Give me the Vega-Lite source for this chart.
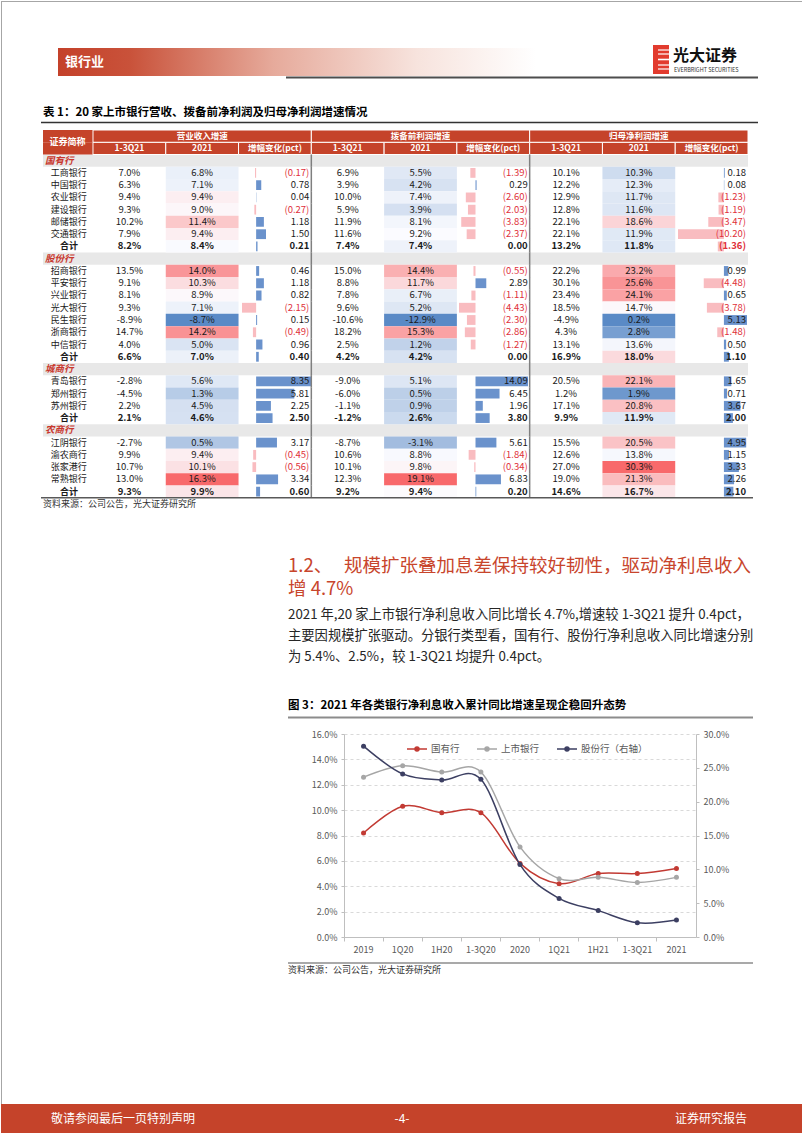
{
"$schema": "https://vega.github.io/schema/vega-lite/v6.json",
"padding": 0,
"background": "white",
"bounds": "flush",
"spacing": 0,
"config": {"view": {"stroke": null}, "font": "Noto Sans CJK SC", "concat": {"spacing": 0},
  "locale": {"number": {"decimal": ".", "thousands": ",", "grouping": [3], "currency": ["", ""], "minus": "-"}}},
"datasets": {
 "tbl": [
  {"r":0,"type":"sec","name":"国有行"},
  {"r":1,"type":"bank","name":"工商银行","rq":0.070,"ry":0.068,"rd":-0.17,"pq":0.069,"py":0.055,"pd":-1.39,"nq":0.101,"ny":0.103,"nd":0.18},
  {"r":2,"type":"bank","name":"中国银行","rq":0.063,"ry":0.071,"rd":0.78,"pq":0.039,"py":0.042,"pd":0.29,"nq":0.122,"ny":0.123,"nd":0.08},
  {"r":3,"type":"bank","name":"农业银行","rq":0.094,"ry":0.094,"rd":0.04,"pq":0.100,"py":0.074,"pd":-2.60,"nq":0.129,"ny":0.117,"nd":-1.23},
  {"r":4,"type":"bank","name":"建设银行","rq":0.093,"ry":0.090,"rd":-0.27,"pq":0.059,"py":0.039,"pd":-2.03,"nq":0.128,"ny":0.116,"nd":-1.19},
  {"r":5,"type":"bank","name":"邮储银行","rq":0.102,"ry":0.114,"rd":1.18,"pq":0.119,"py":0.081,"pd":-3.83,"nq":0.221,"ny":0.186,"nd":-3.47},
  {"r":6,"type":"bank","name":"交通银行","rq":0.079,"ry":0.094,"rd":1.50,"pq":0.116,"py":0.092,"pd":-2.37,"nq":0.221,"ny":0.119,"nd":-10.20},
  {"r":7,"type":"total","name":"合计","rq":0.082,"ry":0.084,"rd":0.21,"pq":0.074,"py":0.074,"pd":0.00,"nq":0.132,"ny":0.118,"nd":-1.36},
  {"r":8,"type":"sec","name":"股份行"},
  {"r":9,"type":"bank","name":"招商银行","rq":0.135,"ry":0.140,"rd":0.46,"pq":0.150,"py":0.144,"pd":-0.55,"nq":0.222,"ny":0.232,"nd":0.99},
  {"r":10,"type":"bank","name":"平安银行","rq":0.091,"ry":0.103,"rd":1.18,"pq":0.088,"py":0.117,"pd":2.89,"nq":0.301,"ny":0.256,"nd":-4.48},
  {"r":11,"type":"bank","name":"兴业银行","rq":0.081,"ry":0.089,"rd":0.82,"pq":0.078,"py":0.067,"pd":-1.11,"nq":0.234,"ny":0.241,"nd":0.65},
  {"r":12,"type":"bank","name":"光大银行","rq":0.093,"ry":0.071,"rd":-2.15,"pq":0.096,"py":0.052,"pd":-4.43,"nq":0.185,"ny":0.147,"nd":-3.78},
  {"r":13,"type":"bank","name":"民生银行","rq":-0.089,"ry":-0.087,"rd":0.15,"pq":-0.106,"py":-0.129,"pd":-2.30,"nq":-0.049,"ny":0.002,"nd":5.13},
  {"r":14,"type":"bank","name":"浙商银行","rq":0.147,"ry":0.142,"rd":-0.49,"pq":0.182,"py":0.153,"pd":-2.86,"nq":0.043,"ny":0.028,"nd":-1.48},
  {"r":15,"type":"bank","name":"中信银行","rq":0.040,"ry":0.050,"rd":0.96,"pq":0.025,"py":0.012,"pd":-1.27,"nq":0.131,"ny":0.136,"nd":0.50},
  {"r":16,"type":"total","name":"合计","rq":0.066,"ry":0.070,"rd":0.40,"pq":0.042,"py":0.042,"pd":0.00,"nq":0.169,"ny":0.180,"nd":1.10},
  {"r":17,"type":"sec","name":"城商行"},
  {"r":18,"type":"bank","name":"青岛银行","rq":-0.028,"ry":0.056,"rd":8.35,"pq":-0.090,"py":0.051,"pd":14.09,"nq":0.205,"ny":0.221,"nd":1.65},
  {"r":19,"type":"bank","name":"郑州银行","rq":-0.045,"ry":0.013,"rd":5.81,"pq":-0.060,"py":0.005,"pd":6.45,"nq":0.012,"ny":0.019,"nd":0.71},
  {"r":20,"type":"bank","name":"苏州银行","rq":0.022,"ry":0.045,"rd":2.25,"pq":-0.011,"py":0.009,"pd":1.96,"nq":0.171,"ny":0.208,"nd":3.67},
  {"r":21,"type":"total","name":"合计","rq":0.021,"ry":0.046,"rd":2.50,"pq":-0.012,"py":0.026,"pd":3.80,"nq":0.099,"ny":0.119,"nd":2.00},
  {"r":22,"type":"sec","name":"农商行"},
  {"r":23,"type":"bank","name":"江阴银行","rq":-0.027,"ry":0.005,"rd":3.17,"pq":-0.087,"py":-0.031,"pd":5.61,"nq":0.155,"ny":0.205,"nd":4.95},
  {"r":24,"type":"bank","name":"渝农商行","rq":0.099,"ry":0.094,"rd":-0.45,"pq":0.106,"py":0.088,"pd":-1.84,"nq":0.126,"ny":0.138,"nd":1.15},
  {"r":25,"type":"bank","name":"张家港行","rq":0.107,"ry":0.101,"rd":-0.56,"pq":0.101,"py":0.098,"pd":-0.34,"nq":0.270,"ny":0.303,"nd":3.33},
  {"r":26,"type":"bank","name":"常熟银行","rq":0.130,"ry":0.163,"rd":3.34,"pq":0.123,"py":0.191,"pd":6.83,"nq":0.190,"ny":0.213,"nd":2.26},
  {"r":27,"type":"total","name":"合计","rq":0.093,"ry":0.099,"rd":0.60,"pq":0.092,"py":0.094,"pd":0.20,"nq":0.146,"ny":0.167,"nd":2.10}
 ],
 "hdr": [
  {"k":"rq","t":"1-3Q21","g":"rev","gt":"营业收入增速","mid":false},
  {"k":"ry","t":"2021","g":"rev","gt":"营业收入增速","mid":true},
  {"k":"rd","t":"增幅变化(pct)","g":"rev","gt":"营业收入增速","mid":false},
  {"k":"pq","t":"1-3Q21","g":"pre","gt":"拨备前利润增速","mid":false},
  {"k":"py","t":"2021","g":"pre","gt":"拨备前利润增速","mid":true},
  {"k":"pd","t":"增幅变化(pct)","g":"pre","gt":"拨备前利润增速","mid":false},
  {"k":"nq","t":"1-3Q21","g":"net","gt":"归母净利润增速","mid":false},
  {"k":"ny","t":"2021","g":"net","gt":"归母净利润增速","mid":true},
  {"k":"nd","t":"增幅变化(pct)","g":"net","gt":"归母净利润增速","mid":false}
 ],
 "ts": [
  {"p":"2019","s":"国有行","v":0.082},{"p":"1Q20","s":"国有行","v":0.103},{"p":"1H20","s":"国有行","v":0.098},{"p":"1-3Q20","s":"国有行","v":0.098},{"p":"2020","s":"国有行","v":0.058},{"p":"1Q21","s":"国有行","v":0.042},{"p":"1H21","s":"国有行","v":0.050},{"p":"1-3Q21","s":"国有行","v":0.050},{"p":"2021","s":"国有行","v":0.054},
  {"p":"2019","s":"上市银行","v":0.126},{"p":"1Q20","s":"上市银行","v":0.135},{"p":"1H20","s":"上市银行","v":0.130},{"p":"1-3Q20","s":"上市银行","v":0.130},{"p":"2020","s":"上市银行","v":0.071},{"p":"1Q21","s":"上市银行","v":0.046},{"p":"1H21","s":"上市银行","v":0.047},{"p":"1-3Q21","s":"上市银行","v":0.043},{"p":"2021","s":"上市银行","v":0.047},
  {"p":"2019","s":"股份行（右轴）","v":0.282},{"p":"1Q20","s":"股份行（右轴）","v":0.241},{"p":"1H20","s":"股份行（右轴）","v":0.232},{"p":"1-3Q20","s":"股份行（右轴）","v":0.233},{"p":"2020","s":"股份行（右轴）","v":0.107},{"p":"1Q21","s":"股份行（右轴）","v":0.057},{"p":"1H21","s":"股份行（右轴）","v":0.039},{"p":"1-3Q21","s":"股份行（右轴）","v":0.021},{"p":"2021","s":"股份行（右轴）","v":0.025}
 ]
},
"vconcat": [
 {
  "width": 802, "height": 129,
  "data": {"values": [{}]},
  "layer": [
   {"mark": {"type": "rule", "stroke": "#A6A6A6", "strokeWidth": 1}, "encoding": {"x": {"value": 0}, "x2": {"value": 802}, "y": {"value": 0.5}}},
   {"mark": {"type": "rule", "stroke": "#A6A6A6", "strokeWidth": 1}, "encoding": {"x": {"value": 0.5}, "y": {"value": 0}, "y2": {"value": "height"}}},
   {"mark": {"type": "rule", "stroke": "#A6A6A6", "strokeWidth": 1}, "encoding": {"x": {"value": 801.5}, "y": {"value": 0}, "y2": {"value": "height"}}},
   {"mark": {"type": "rect", "fill": {"gradient": "linear", "x1": 0, "y1": 0, "x2": 1, "y2": 0, "stops": [{"offset": 0, "color": "#C4412A"}, {"offset": 0.15, "color": "#C9523A"}, {"offset": 0.45, "color": "#E6AA9B"}, {"offset": 0.75, "color": "#F7E3DD"}, {"offset": 1, "color": "#FFFFFF"}]}}, "encoding": {"x": {"value": 57}, "x2": {"value": 535}, "y": {"value": 47}, "y2": {"value": 75}}},
   {"mark": {"type": "text", "text": "银行业", "align": "left", "baseline": "middle", "fontSize": 13, "fontWeight": "bold", "fill": "white"}, "encoding": {"x": {"value": 64}, "y": {"value": 61}}},
   {"mark": {"type": "rule", "stroke": "#4D4D4D", "strokeWidth": 2}, "encoding": {"x": {"value": 285}, "x2": {"value": 757}, "y": {"value": 76.5}}},
   {"mark": {"type": "rect", "fill": "#E23B2E"}, "encoding": {"x": {"value": 652}, "x2": {"value": 668}, "y": {"value": 44}, "y2": {"value": 73}}},
   {"mark": {"type": "rule", "stroke": "white", "strokeWidth": 1.2}, "encoding": {"x": {"value": 657}, "x2": {"value": 668}, "y": {"value": 49}}},
   {"mark": {"type": "rule", "stroke": "white", "strokeWidth": 1.2}, "encoding": {"x": {"value": 657}, "x2": {"value": 668}, "y": {"value": 53}}},
   {"mark": {"type": "rule", "stroke": "white", "strokeWidth": 1.6}, "encoding": {"x": {"value": 657}, "x2": {"value": 668}, "y": {"value": 58.5}}},
   {"mark": {"type": "rule", "stroke": "white", "strokeWidth": 1.2}, "encoding": {"x": {"value": 657}, "x2": {"value": 668}, "y": {"value": 64}}},
   {"mark": {"type": "rule", "stroke": "white", "strokeWidth": 1.2}, "encoding": {"x": {"value": 657}, "x2": {"value": 668}, "y": {"value": 68}}},
   {"mark": {"type": "text", "text": "光大证券", "align": "left", "baseline": "middle", "fontSize": 16, "fontWeight": "bold", "fill": "#111111"}, "encoding": {"x": {"value": 672}, "y": {"value": 55}}},
   {"mark": {"type": "text", "text": "EVERBRIGHT SECURITIES", "align": "left", "baseline": "middle", "fontSize": 5.5, "fill": "#333333"}, "encoding": {"x": {"value": 673}, "y": {"value": 68.5}}},
   {"mark": {"type": "text", "text": "表 1：20 家上市银行营收、拨备前净利润及归母净利润增速情况", "align": "left", "baseline": "middle", "fontSize": 11.5, "fontWeight": "bold", "fill": "#000000"}, "encoding": {"x": {"value": 42}, "y": {"value": 112}}},
   {"mark": {"type": "rule", "stroke": "#333333", "strokeWidth": 1.5}, "encoding": {"x": {"value": 40}, "x2": {"value": 757}, "y": {"value": 121.5}}}
  ]
 },
 {
  "width": 802, "height": 380,
  "data": {"name": "tbl"},
  "resolve": {"scale": {"x": "independent", "color": "independent"}},
  "layer": [
   {"transform": [{"filter": "datum.type == 'sec'"}], "mark": {"type": "rect", "fill": "#E8E8E8"},
    "encoding": {"x": {"value": 42}, "x2": {"value": 747},
     "y": {"field": "r", "type": "ordinal", "scale": {"type": "band", "domain": [-2,-1,0,1,2,3,4,5,6,7,8,9,10,11,12,13,14,15,16,17,18,19,20,21,22,23,24,25,26,27,28], "range": [0, 380], "paddingInner": 0, "paddingOuter": 0}, "axis": null}}},
   {"data": {"values": [{}]}, "mark": {"type": "rule", "stroke": "#A6A6A6", "strokeWidth": 1}, "encoding": {"x": {"value": 0.5}, "y": {"value": 0}, "y2": {"value": "height"}}},
   {"data": {"values": [{}]}, "mark": {"type": "rule", "stroke": "#A6A6A6", "strokeWidth": 1}, "encoding": {"x": {"value": 801.5}, "y": {"value": 0}, "y2": {"value": "height"}}},
   {"transform": [{"filter": "datum.type != 'sec'"}], "mark": {"type": "rect"},
    "encoding": {"x": {"datum": "ry", "type": "nominal", "scale": {"type": "band", "domain": ["name","rq","ry","rd","pq","py","pd","nq","ny","nd"], "range": [19.2, 747], "paddingInner": 0, "paddingOuter": 0}, "axis": null},
     "y": {"field": "r", "type": "ordinal", "axis": null},
     "color": {"field": "ry", "type": "quantitative", "scale": {"domain": [-0.087, 0.087, 0.163], "range": ["#5A8AC6", "#FCFCFF", "#F8696B"], "interpolate": "rgb"}, "legend": null}}},
   {"transform": [{"filter": "datum.type != 'sec'"}], "mark": {"type": "rect"},
    "encoding": {"x": {"datum": "py", "type": "nominal", "scale": {"type": "band", "domain": ["name","rq","ry","rd","pq","py","pd","nq","ny","nd"], "range": [19.2, 747], "paddingInner": 0, "paddingOuter": 0}, "axis": null},
     "y": {"field": "r", "type": "ordinal", "axis": null},
     "color": {"field": "py", "type": "quantitative", "scale": {"domain": [-0.129, 0.093, 0.191], "range": ["#5A8AC6", "#FCFCFF", "#F8696B"], "interpolate": "rgb"}, "legend": null}}},
   {"transform": [{"filter": "datum.type != 'sec'"}], "mark": {"type": "rect"},
    "encoding": {"x": {"datum": "ny", "type": "nominal", "scale": {"type": "band", "domain": ["name","rq","ry","rd","pq","py","pd","nq","ny","nd"], "range": [19.2, 747], "paddingInner": 0, "paddingOuter": 0}, "axis": null},
     "y": {"field": "r", "type": "ordinal", "axis": null},
     "color": {"field": "ny", "type": "quantitative", "scale": {"domain": [0.002, 0.143, 0.303], "range": ["#5A8AC6", "#FCFCFF", "#F8696B"], "interpolate": "rgb"}, "legend": null}}},
   {"transform": [{"filter": "datum.type != 'sec'"}], "mark": {"type": "bar", "height": {"band": 0.8}},
    "encoding": {"x": {"field": "rd", "type": "quantitative", "scale": {"domain": [-2.15, 8.35], "range": [241, 310], "nice": false, "zero": false}, "axis": null},
     "x2": {"datum": 0}, "y": {"field": "r", "type": "ordinal", "axis": null},
     "color": {"condition": {"test": "datum.rd < 0", "value": "#F9BCC0"}, "value": "#6A92CC"}}},
   {"transform": [{"filter": "datum.type != 'sec'"}], "mark": {"type": "bar", "height": {"band": 0.8}},
    "encoding": {"x": {"field": "pd", "type": "quantitative", "scale": {"domain": [-4.43, 14.09], "range": [458, 527], "nice": false, "zero": false}, "axis": null},
     "x2": {"datum": 0}, "y": {"field": "r", "type": "ordinal", "axis": null},
     "color": {"condition": {"test": "datum.pd < 0", "value": "#F9BCC0"}, "value": "#6A92CC"}}},
   {"transform": [{"filter": "datum.type != 'sec'"}], "mark": {"type": "bar", "height": {"band": 0.8}},
    "encoding": {"x": {"field": "nd", "type": "quantitative", "scale": {"domain": [-10.2, 5.13], "range": [677, 746], "nice": false, "zero": false}, "axis": null},
     "x2": {"datum": 0}, "y": {"field": "r", "type": "ordinal", "axis": null},
     "color": {"condition": {"test": "datum.nd < 0", "value": "#F9BCC0"}, "value": "#6A92CC"}}},
   {"transform": [{"filter": "datum.type != 'sec'"}], "mark": {"type": "rule", "stroke": "#404040", "strokeWidth": 0.8, "strokeDash": [1.5, 1.5]},
    "encoding": {"x": {"datum": 0, "type": "quantitative", "scale": {"domain": [-2.15, 8.35], "range": [241, 310], "nice": false, "zero": false}, "axis": null},
     "y": {"field": "r", "type": "ordinal", "axis": null}}},
   {"transform": [{"filter": "datum.type != 'sec'"}], "mark": {"type": "rule", "stroke": "#404040", "strokeWidth": 0.8, "strokeDash": [1.5, 1.5]},
    "encoding": {"x": {"datum": 0, "type": "quantitative", "scale": {"domain": [-4.43, 14.09], "range": [458, 527], "nice": false, "zero": false}, "axis": null},
     "y": {"field": "r", "type": "ordinal", "axis": null}}},
   {"transform": [{"filter": "datum.type != 'sec'"}], "mark": {"type": "rule", "stroke": "#404040", "strokeWidth": 0.8, "strokeDash": [1.5, 1.5]},
    "encoding": {"x": {"datum": 0, "type": "quantitative", "scale": {"domain": [-10.2, 5.13], "range": [677, 746], "nice": false, "zero": false}, "axis": null},
     "y": {"field": "r", "type": "ordinal", "axis": null}}},
   {"data": {"name": "hdr"}, "mark": {"type": "rect", "fill": "#C5432A", "stroke": "white", "strokeWidth": 1},
    "encoding": {"x": {"field": "k", "type": "nominal", "scale": {"type": "band", "domain": ["name","rq","ry","rd","pq","py","pd","nq","ny","nd"], "range": [19.2, 747], "paddingInner": 0, "paddingOuter": 0}, "axis": null},
     "y": {"datum": -1, "type": "ordinal", "axis": null}}},
   {"data": {"name": "hdr"}, "transform": [{"filter": "datum.mid"}], "mark": {"type": "rect", "fill": "#C5432A", "stroke": "white", "strokeWidth": 1},
    "encoding": {"x": {"field": "g", "type": "nominal", "scale": {"type": "band", "domain": ["rev","pre","net"], "range": [92, 747], "paddingInner": 0, "paddingOuter": 0}, "axis": null},
     "y": {"datum": -2, "type": "ordinal", "axis": null}}},
   {"data": {"values": [{"h": -2}, {"h": -1}]}, "mark": {"type": "rect", "fill": "#C5432A"},
    "encoding": {"x": {"value": 42}, "x2": {"value": 91.5}, "y": {"field": "h", "type": "ordinal", "axis": null}}},
   {"data": {"name": "hdr"}, "mark": {"type": "text", "fill": "white", "fontWeight": "bold", "fontSize": 8.5},
    "encoding": {"x": {"field": "k", "type": "nominal", "scale": {"type": "band", "domain": ["name","rq","ry","rd","pq","py","pd","nq","ny","nd"], "range": [19.2, 747], "paddingInner": 0, "paddingOuter": 0}, "axis": null},
     "y": {"datum": -1, "type": "ordinal", "axis": null}, "text": {"field": "t"}}},
   {"data": {"name": "hdr"}, "transform": [{"filter": "datum.mid"}], "mark": {"type": "text", "fill": "white", "fontWeight": "bold", "fontSize": 8.5},
    "encoding": {"x": {"field": "g", "type": "nominal", "scale": {"type": "band", "domain": ["rev","pre","net"], "range": [92, 747], "paddingInner": 0, "paddingOuter": 0}, "axis": null},
     "y": {"datum": -2, "type": "ordinal", "axis": null}, "text": {"field": "gt"}}},
   {"data": {"values": [{}]}, "mark": {"type": "text", "text": "证券简称", "fill": "white", "fontWeight": "bold", "fontSize": 9},
    "encoding": {"x": {"datum": "name", "type": "nominal", "scale": {"type": "band", "domain": ["name","rq","ry","rd","pq","py","pd","nq","ny","nd"], "range": [19.2, 747], "paddingInner": 0, "paddingOuter": 0}, "bandPosition": 0.65, "axis": null},
     "y": {"datum": -1, "type": "ordinal", "bandPosition": 0, "axis": null}}},
   {"transform": [{"filter": "datum.type == 'bank'"}], "mark": {"type": "text", "align": "left", "fontSize": 9, "fill": "#1A1A1A"},
    "encoding": {"x": {"datum": "name", "type": "nominal", "scale": {"type": "band", "domain": ["name","rq","ry","rd","pq","py","pd","nq","ny","nd"], "range": [19.2, 747], "paddingInner": 0, "paddingOuter": 0}, "bandPosition": 0.42, "axis": null},
     "y": {"field": "r", "type": "ordinal", "axis": null}, "text": {"field": "name"}}},
   {"transform": [{"filter": "datum.type == 'total'"}], "mark": {"type": "text", "align": "center", "fontSize": 9, "fontWeight": "bold", "fill": "#1A1A1A"},
    "encoding": {"x": {"datum": "name", "type": "nominal", "scale": {"type": "band", "domain": ["name","rq","ry","rd","pq","py","pd","nq","ny","nd"], "range": [19.2, 747], "paddingInner": 0, "paddingOuter": 0}, "bandPosition": 0.67, "axis": null},
     "y": {"field": "r", "type": "ordinal", "axis": null}, "text": {"field": "name"}}},
   {"transform": [{"filter": "datum.type == 'sec'"}], "mark": {"type": "text", "align": "left", "fontSize": 9.5, "fontWeight": "bold", "fontStyle": "italic", "fill": "#C8372D"},
    "encoding": {"x": {"datum": "name", "type": "nominal", "scale": {"type": "band", "domain": ["name","rq","ry","rd","pq","py","pd","nq","ny","nd"], "range": [19.2, 747], "paddingInner": 0, "paddingOuter": 0}, "bandPosition": 0.34, "axis": null},
     "y": {"field": "r", "type": "ordinal", "axis": null}, "text": {"field": "name"}}},
   {"transform": [{"filter": "datum.type == 'bank'"}, {"fold": ["rq","ry","pq","py","nq","ny"], "as": ["key","val"]}], "mark": {"type": "text", "fontSize": 9.5, "fill": "#1A1A1A"},
    "encoding": {"x": {"field": "key", "type": "nominal", "scale": {"type": "band", "domain": ["name","rq","ry","rd","pq","py","pd","nq","ny","nd"], "range": [19.2, 747], "paddingInner": 0, "paddingOuter": 0}, "axis": null},
     "y": {"field": "r", "type": "ordinal", "axis": null}, "text": {"field": "val", "type": "quantitative", "format": ".1%"}}},
   {"transform": [{"filter": "datum.type == 'total'"}, {"fold": ["rq","ry","pq","py","nq","ny"], "as": ["key","val"]}], "mark": {"type": "text", "fontSize": 9.5, "fontWeight": "bold", "fill": "#1A1A1A"},
    "encoding": {"x": {"field": "key", "type": "nominal", "scale": {"type": "band", "domain": ["name","rq","ry","rd","pq","py","pd","nq","ny","nd"], "range": [19.2, 747], "paddingInner": 0, "paddingOuter": 0}, "axis": null},
     "y": {"field": "r", "type": "ordinal", "axis": null}, "text": {"field": "val", "type": "quantitative", "format": ".1%"}}},
   {"transform": [{"filter": "datum.type == 'bank'"}, {"fold": ["rd","pd","nd"], "as": ["key","val"]}], "mark": {"type": "text", "fontSize": 9.5, "align": "right", "dx": -2},
    "encoding": {"x": {"field": "key", "type": "nominal", "scale": {"type": "band", "domain": ["name","rq","ry","rd","pq","py","pd","nq","ny","nd"], "range": [19.2, 747], "paddingInner": 0, "paddingOuter": 0}, "bandPosition": 1, "axis": null},
     "y": {"field": "r", "type": "ordinal", "axis": null}, "text": {"field": "val", "type": "quantitative", "format": "(.2f"},
     "color": {"condition": {"test": "datum.val < 0", "value": "#E0303A"}, "value": "#1A1A1A"}}},
   {"transform": [{"filter": "datum.type == 'total'"}, {"fold": ["rd","pd","nd"], "as": ["key","val"]}], "mark": {"type": "text", "fontSize": 9.5, "fontWeight": "bold", "align": "right", "dx": -2},
    "encoding": {"x": {"field": "key", "type": "nominal", "scale": {"type": "band", "domain": ["name","rq","ry","rd","pq","py","pd","nq","ny","nd"], "range": [19.2, 747], "paddingInner": 0, "paddingOuter": 0}, "bandPosition": 1, "axis": null},
     "y": {"field": "r", "type": "ordinal", "axis": null}, "text": {"field": "val", "type": "quantitative", "format": "(.2f"},
     "color": {"condition": {"test": "datum.val < 0", "value": "#E0303A"}, "value": "#1A1A1A"}}},
   {"mark": {"type": "tick", "orient": "vertical", "color": "#7F7F7F", "opacity": 1, "thickness": 1.5, "size": 12.4},
    "encoding": {"x": {"datum": "pq", "type": "nominal", "scale": {"type": "band", "domain": ["name","rq","ry","rd","pq","py","pd","nq","ny","nd"], "range": [19.2, 747], "paddingInner": 0, "paddingOuter": 0}, "bandPosition": 0, "axis": null},
     "y": {"field": "r", "type": "ordinal", "axis": null}}},
   {"mark": {"type": "tick", "orient": "vertical", "color": "#7F7F7F", "opacity": 1, "thickness": 1.5, "size": 12.4},
    "encoding": {"x": {"datum": "nq", "type": "nominal", "scale": {"type": "band", "domain": ["name","rq","ry","rd","pq","py","pd","nq","ny","nd"], "range": [19.2, 747], "paddingInner": 0, "paddingOuter": 0}, "bandPosition": 0, "axis": null},
     "y": {"field": "r", "type": "ordinal", "axis": null}}},
   {"data": {"values": [{}]}, "mark": {"type": "rule", "stroke": "#595959", "strokeWidth": 1.5},
    "encoding": {"x": {"value": 40}, "x2": {"value": 752}, "y": {"datum": 28, "type": "ordinal", "bandPosition": 0, "axis": null}}},
   {"data": {"values": [{}]}, "mark": {"type": "text", "text": "资料来源：公司公告，光大证券研究所", "align": "left", "fontSize": 9, "fill": "#333333"},
    "encoding": {"x": {"value": 42}, "y": {"datum": 28, "type": "ordinal", "axis": null}}}
  ]
 },
 {
  "width": 802, "height": 224,
  "data": {"values": [{}]},
  "layer": [
   {"mark": {"type": "rule", "stroke": "#A6A6A6", "strokeWidth": 1}, "encoding": {"x": {"value": 0.5}, "y": {"value": 0}, "y2": {"value": "height"}}},
   {"mark": {"type": "rule", "stroke": "#A6A6A6", "strokeWidth": 1}, "encoding": {"x": {"value": 801.5}, "y": {"value": 0}, "y2": {"value": "height"}}},
   {"mark": {"type": "text", "text": "1.2、", "align": "left", "baseline": "middle", "fontSize": 18.5, "fill": "#C8452C"}, "encoding": {"x": {"value": 287}, "y": {"value": 55.5}}},
   {"mark": {"type": "text", "text": "规模扩张叠加息差保持较好韧性，驱动净利息收入", "align": "left", "baseline": "middle", "fontSize": 18.5, "fill": "#C8452C"}, "encoding": {"x": {"value": 343}, "y": {"value": 55.5}}},
   {"mark": {"type": "text", "text": "增 4.7%", "align": "left", "baseline": "middle", "fontSize": 18.5, "fill": "#C8452C"}, "encoding": {"x": {"value": 287}, "y": {"value": 79}}},
   {"mark": {"type": "text", "text": "2021 年,20 家上市银行净利息收入同比增长 4.7%,增速较 1-3Q21 提升 0.4pct，", "align": "left", "baseline": "middle", "fontSize": 13.3, "fill": "#262626"}, "encoding": {"x": {"value": 287}, "y": {"value": 105}}},
   {"mark": {"type": "text", "text": "主要因规模扩张驱动。分银行类型看，国有行、股份行净利息收入同比增速分别", "align": "left", "baseline": "middle", "fontSize": 13.3, "fill": "#262626"}, "encoding": {"x": {"value": 287}, "y": {"value": 126}}},
   {"mark": {"type": "text", "text": "为 5.4%、2.5%，较 1-3Q21 均提升 0.4pct。", "align": "left", "baseline": "middle", "fontSize": 13.3, "fill": "#262626"}, "encoding": {"x": {"value": 287}, "y": {"value": 146.5}}},
   {"mark": {"type": "text", "text": "图 3：2021 年各类银行净利息收入累计同比增速呈现企稳回升态势", "align": "left", "baseline": "middle", "fontSize": 11.5, "fontWeight": "bold", "fill": "#000000"}, "encoding": {"x": {"value": 287}, "y": {"value": 196}}},
   {"mark": {"type": "rule", "stroke": "#8C8C8C", "strokeWidth": 2}, "encoding": {"x": {"value": 287}, "x2": {"value": 752}, "y": {"value": 207.5}}}
  ]
 },
 {
  "width": 802, "height": 203,
  "data": {"name": "ts"},
  "encoding": {
   "x": {"field": "p", "type": "ordinal", "scale": {"type": "band", "domain": ["2019","1Q20","1H20","1-3Q20","2020","1Q21","1H21","1-3Q21","2021"], "range": [343, 695], "paddingInner": 0, "paddingOuter": 0}, "bandPosition": 0.5,
    "axis": {"title": null, "labelAngle": 0, "labelFontSize": 9, "labelColor": "#595959", "domainColor": "#BFBFBF", "tickColor": "#BFBFBF", "tickSize": 4, "bandPosition": 0, "labelPadding": 4, "grid": false}},
   "color": {"field": "s", "type": "nominal", "scale": {"domain": ["国有行", "上市银行", "股份行（右轴）"], "range": ["#C23A33", "#A6A6A6", "#3C3F62"]},
    "legend": {"orient": "none", "legendX": 405, "legendY": 737, "direction": "horizontal", "title": null, "labelFontSize": 9.5, "labelColor": "#595959", "symbolType": "M-1,0H1M-0.2,0A0.2,0.2,0,1,1,0.2,0A0.2,0.2,0,1,1,-0.2,0Z", "symbolSize": 400, "symbolStrokeWidth": 1.5, "columnPadding": 14, "labelOffset": 3, "padding": 0}}
  },
  "layer": [
   {"data": {"values": [{}]}, "mark": {"type": "rule", "stroke": "#A6A6A6", "strokeWidth": 1}, "encoding": {"x": {"value": 0.5}, "y": {"value": 0}, "y2": {"value": "height"}, "color": {"value": "#A6A6A6"}}},
   {"data": {"values": [{}]}, "mark": {"type": "rule", "stroke": "#A6A6A6", "strokeWidth": 1}, "encoding": {"x": {"value": 801.5}, "y": {"value": 0}, "y2": {"value": "height"}, "color": {"value": "#A6A6A6"}}},
   {"transform": [{"filter": "datum.s != '股份行（右轴）'"}],
    "encoding": {"y": {"field": "v", "type": "quantitative", "scale": {"domain": [0, 0.16], "nice": false},
      "axis": {"orient": "left", "offset": -343, "format": ".1%", "values": [0, 0.02, 0.04, 0.06, 0.08, 0.1, 0.12, 0.14, 0.16], "grid": true, "gridDash": [3, 3], "gridColor": "#D9D9D9", "domain": true, "domainColor": "#BFBFBF", "ticks": true, "tickSize": 3, "tickColor": "#BFBFBF", "labelFontSize": 9, "labelColor": "#595959", "labelPadding": 4, "title": null}}},
    "layer": [
     {"mark": {"type": "line", "interpolate": "cardinal", "strokeWidth": 1.5}},
     {"mark": {"type": "point", "filled": true, "size": 25, "opacity": 1}}
    ]},
   {"transform": [{"filter": "datum.s == '股份行（右轴）'"}],
    "encoding": {"y": {"field": "v", "type": "quantitative", "scale": {"domain": [0, 0.30], "nice": false},
      "axis": {"orient": "right", "offset": -107, "format": ".1%", "values": [0, 0.05, 0.1, 0.15, 0.2, 0.25, 0.3], "grid": false, "domain": true, "domainColor": "#BFBFBF", "ticks": true, "tickSize": 3, "tickColor": "#BFBFBF", "labelFontSize": 9, "labelColor": "#595959", "labelPadding": 4, "title": null}}},
    "layer": [
     {"mark": {"type": "line", "interpolate": "cardinal", "strokeWidth": 1.5}},
     {"mark": {"type": "point", "filled": true, "size": 25, "opacity": 1}}
    ]}
  ],
  "resolve": {"scale": {"y": "independent"}}
 },
 {
  "width": 802, "height": 167,
  "data": {"values": [{}]},
  "layer": [
   {"mark": {"type": "rule", "stroke": "#A6A6A6", "strokeWidth": 1}, "encoding": {"x": {"value": 0.5}, "y": {"value": 0}, "y2": {"value": "height"}}},
   {"mark": {"type": "rule", "stroke": "#A6A6A6", "strokeWidth": 1}, "encoding": {"x": {"value": 801.5}, "y": {"value": 0}, "y2": {"value": "height"}}},
   {"mark": {"type": "rule", "stroke": "#8C8C8C", "strokeWidth": 1.5}, "encoding": {"x": {"value": 287}, "x2": {"value": 752}, "y": {"value": 26}}},
   {"mark": {"type": "text", "text": "资料来源：公司公告，光大证券研究所", "align": "left", "baseline": "middle", "fontSize": 9, "fill": "#333333"}, "encoding": {"x": {"value": 287}, "y": {"value": 33}}}
  ]
 },
 {
  "width": 802, "height": 30,
  "data": {"values": [{}]},
  "layer": [
   {"mark": {"type": "rect", "fill": "#C5432A"}, "encoding": {"x": {"value": 0}, "x2": {"value": "width"}, "y": {"value": 0}, "y2": {"value": "height"}}},
   {"mark": {"type": "text", "text": "敬请参阅最后一页特别声明", "align": "left", "baseline": "middle", "fontSize": 12, "fill": "white"}, "encoding": {"x": {"value": 50}, "y": {"value": 15}}},
   {"mark": {"type": "text", "text": "-4-", "align": "center", "baseline": "middle", "fontSize": 12, "fill": "white"}, "encoding": {"x": {"value": 401}, "y": {"value": 15}}},
   {"mark": {"type": "text", "text": "证券研究报告", "align": "right", "baseline": "middle", "fontSize": 12, "fill": "white"}, "encoding": {"x": {"value": 746}, "y": {"value": 15}}}
  ]
 }
]
}
